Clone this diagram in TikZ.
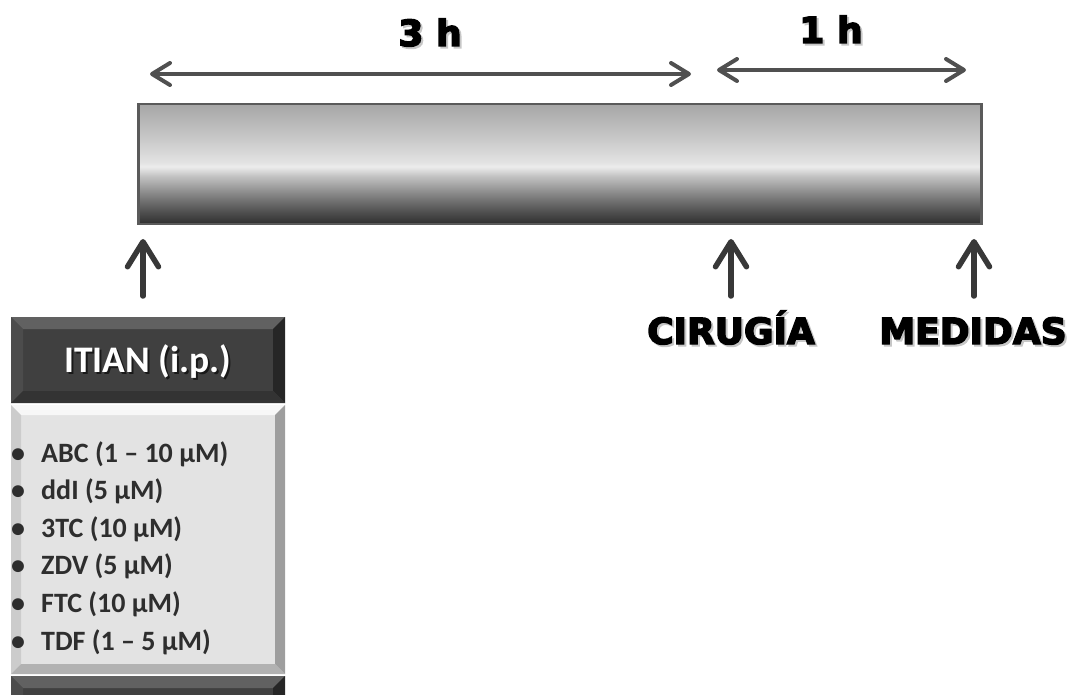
\documentclass[tikz,border=0pt]{standalone}
\usepackage{fontspec}
\usetikzlibrary{arrows.meta}
\newfontfamily\heavyfont{DejaVu Sans}[BoldFeatures={FakeBold=4}]
\newfontfamily\calfont{Carlito}

% greys of the timeline bar, bottom to top
\definecolor{b0}{HTML}{2E2E2E}
\definecolor{b1}{HTML}{555555}
\definecolor{b2}{HTML}{858585}
\definecolor{b3}{HTML}{C2C2C2}
\definecolor{b4}{HTML}{ECECEC}
\definecolor{b5}{HTML}{E2E2E2}
\definecolor{b6}{HTML}{C4C4C4}
\definecolor{b7}{HTML}{A6A6A6}
\definecolor{barline}{HTML}{5A5A5A}
\definecolor{arrowgrey}{HTML}{505050}
\definecolor{uparrowgrey}{HTML}{383838}
\definecolor{listtext}{HTML}{2E2E2E}

\pgfdeclareverticalshading{barshade}{100bp}{%
  color(0bp)=(b0); color(25bp)=(b0); color(31bp)=(b1); color(37.5bp)=(b2);
  color(45bp)=(b3); color(49bp)=(b4); color(51bp)=(b5); color(62.5bp)=(b6);
  color(75bp)=(b7); color(100bp)=(b7)}

% text with a soft offset copy underneath
\newcommand\shadowed[2]{\makebox[0pt][l]{\hspace*{2pt}\raisebox{-2pt}{\textcolor{#1}{#2}}}#2}

% bevelled rectangle: x1 y1 x2 y2 bevel top left right bottom
\newcommand\bevelrect[9]{%
  \fill[#6] (#1,#2) -- (#3,#2) -- (#3-#5,#2+#5) -- (#1+#5,#2+#5) -- cycle;
  \fill[#7] (#1,#2) -- (#1+#5,#2+#5) -- (#1+#5,#4-#5) -- (#1,#4) -- cycle;
  \fill[#8] (#3,#2) -- (#3-#5,#2+#5) -- (#3-#5,#4-#5) -- (#3,#4) -- cycle;
  \fill[#9] (#1,#4) -- (#1+#5,#4-#5) -- (#3-#5,#4-#5) -- (#3,#4) -- cycle;
}

\tikzset{
  biglabel/.style={inner sep=0pt, font=\heavyfont\bfseries\fontsize{36}{40}\selectfont, text=black},
  spanarrow/.style={draw=arrowgrey, line width=4pt, line cap=round,
    {Straight Barb[round,length=18pt,width=22pt]}-{Straight Barb[round,length=18pt,width=22pt]}},
  uparrow/.style={draw=uparrowgrey, line width=5.5pt, line cap=round,
    -{Straight Barb[round,length=25pt,width=31pt]}},
  listitem/.style={inner sep=0pt, anchor=base west, text=listtext,
    font=\calfont\bfseries\fontsize{28}{30}\selectfont},
}

\begin{document}
\begin{tikzpicture}[x=1pt,y=-1pt]
\useasboundingbox (0,0) rectangle (1074,695);

% timeline bar
\node[draw=barline, line width=2.5pt, shading=barshade, anchor=north west,
      minimum width=843pt, minimum height=120pt, inner sep=0pt] (bar) at (137,103) {};

% duration spans
\coordinate (s3a) at (150,74);
\coordinate (s3b) at (691,74);
\coordinate (s1a) at (717,70);
\coordinate (s1b) at (966,70);
\draw[spanarrow] (s3a) -- (s3b);
\draw[spanarrow] (s1a) -- (s1b);
\node[biglabel, anchor=base] (t3) at (430,46) {\shadowed{black!22}{3 h}};
\node[biglabel, anchor=base] (t1) at (831,43) {\shadowed{black!22}{1 h}};

% event labels
\node[biglabel, anchor=base] (cir) at (731,344) {\shadowed{black!22}{CIRUGÍA}};
\node[biglabel, anchor=base] (med) at (973,344) {\shadowed{black!22}{MEDIDAS}};

% event arrows
\coordinate (u0s) at (143,296);
\coordinate (u0e) at (143,239);
\coordinate (u1s) at (731,296);
\coordinate (u1e) at (731,239);
\coordinate (u2s) at (974,296);
\coordinate (u2e) at (974,239);
\draw[uparrow] (u0s) -- (u0e);
\draw[uparrow] (u1s) -- (u1e);
\draw[uparrow] (u2s) -- (u2e);

% treatment panel: header
\fill[black!75] (11,317) rectangle (285,403);
\bevelrect{11}{317}{285}{403}{12}{black!62}{black!70}{black!85}{black!80}
% treatment panel: body
\fill[black!11] (11,405) rectangle (285,674);
\bevelrect{11}{405}{285}{674}{10}{white!97!black}{black!20}{black!38}{black!30}
% treatment panel: next header, cut by the edge
\fill[black!75] (11,676) rectangle (285,695);
\fill[black!62] (11,676) -- (285,676) -- (273,688) -- (23,688) -- cycle;
\fill[black!70] (11,676) -- (23,688) -- (23,695) -- (11,695) -- cycle;
\fill[black!85] (285,676) -- (273,688) -- (273,695) -- (285,695) -- cycle;

\node[inner sep=0pt, anchor=base, text=white, font=\calfont\bfseries\fontsize{37.5}{40}\selectfont]
  (hdr) at (148,372) {\shadowed{black!90}{ITIAN (i.p.)}};

\foreach \y/\txt [count=\i] in {462/{ABC (1 – 10 µM)}, 499.6/{ddI (5 µM)},
    537.2/{3TC (10 µM)}, 574.8/{ZDV (5 µM)}, 612.4/{FTC (10 µM)}, 650/{TDF (1 – 5 µM)}} {
  \node[listitem] (bul\i) at (11,\y) {•};
  \node[listitem] (item\i) at (41,\y) {\txt};
}
\end{tikzpicture}
\end{document}
